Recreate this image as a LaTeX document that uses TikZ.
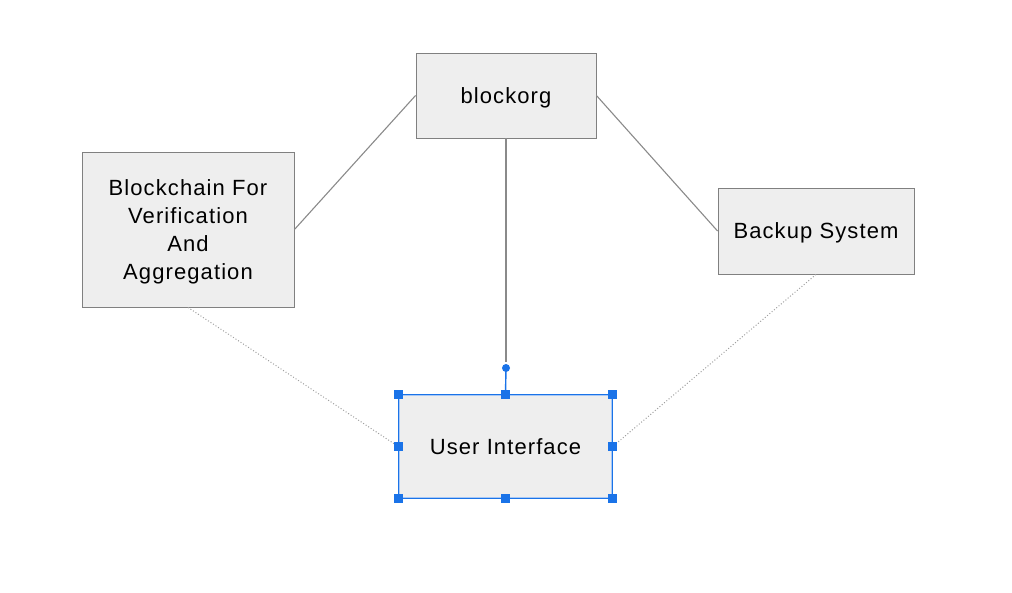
\documentclass[tikz,border=0pt]{standalone}
\usepackage{fontspec}
\setmainfont{Liberation Sans}[LetterSpace=5]
\definecolor{boxfill}{HTML}{EEEEEE}
\definecolor{boxline}{HTML}{808080}
\definecolor{edgeline}{HTML}{8A8A8A}
\definecolor{dotline}{HTML}{A0A0A0}
\definecolor{selblue}{HTML}{1A73E8}
\definecolor{selhalo}{HTML}{A8C8F5}
\begin{document}
\begin{tikzpicture}[x=1pt,y=-1pt,
  box/.style={draw=boxline, fill=boxfill, line width=0.9pt, inner sep=0pt, align=center,
    text depth=0pt, font=\fontsize{22}{27.7}\selectfont, text=black},
  solidedge/.style={draw=edgeline, line width=1.1pt},
  dotedge/.style={draw=dotline, line width=1pt, dotted},
  handle/.style={fill=selblue, draw=none, minimum size=9pt, inner sep=0pt},
]
\useasboundingbox (0,0) rectangle (1012,592);
\node[box, minimum width=180pt, minimum height=85pt] (org) at (506,95.5) {blockorg};
\node[box, minimum width=212pt, minimum height=155pt] (chain) at (188,229.5) {Blockchain For\\Verification\\And\\Aggregation};
\node[box, minimum width=196pt, minimum height=86pt] (backup) at (816,231) {Backup System};
\node[box, draw=selblue, line width=1.4pt, minimum width=213pt, minimum height=103pt] (ui) at (505.5,446.5) {User Interface};
\draw[selhalo, line width=0.8pt] ([xshift=1.5pt,yshift=-1.5pt]ui.north west) rectangle ([xshift=-1.5pt,yshift=1.5pt]ui.south east);
\coordinate (vend) at (506,362);
\coordinate (rot) at (506,368);
\draw[solidedge] (org.west) -- (chain.east);
\draw[solidedge] (org.east) -- (backup.west);
\draw[solidedge] (org.south) -- (vend);
\draw[dotedge] (chain.south) -- (ui.west);
\draw[dotedge] (backup.south) -- (ui.east);
\draw[selblue, line width=1.4pt] (rot) -- (ui.north);
\fill[selblue] (rot) circle (4pt);
\foreach \a in {north west,north,north east,west,east,south west,south,south east}
  \node[handle] at (ui.\a) {};
\end{tikzpicture}
\end{document}
